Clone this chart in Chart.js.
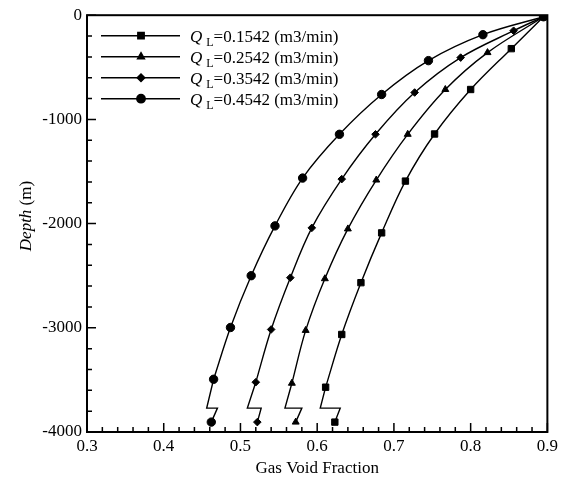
<!DOCTYPE html>
<html>
<head>
<meta charset="utf-8">
<script src="https://cdn.jsdelivr.net/npm/chart.js@4.4.1/dist/chart.umd.min.js"></script>
<style>
  html, body { margin: 0; padding: 0; background: #fff; }
  canvas { display: block; }
</style>
</head>
<body>
<canvas id="chart" width="562" height="483"></canvas>
<script>
const Q_LABELS = ['0.1542', '0.2542', '0.3542', '0.4542'];
const MARKERS = ['rect', 'triangle', 'rectRot', 'circle'];
const MARKER_R = [4.5, 4, 3.8, 4.2];

// gas void fraction vs depth (m)
const frac1542 = [0.895, 0.853, 0.800, 0.753, 0.715, 0.684, 0.657, 0.632, 0.611];
const depth1542 = [-15, -321, -713, -1140, -1592, -2089, -2567, -3064, -3570];
const frac2542 = [0.895, 0.822, 0.767, 0.718, 0.677, 0.640, 0.610, 0.585, 0.567];
const depth2542 = [-15, -359, -713, -1143, -1582, -2051, -2529, -3025, -3532];
const frac3542 = [0.895, 0.856, 0.787, 0.727, 0.676, 0.632, 0.593, 0.565, 0.540, 0.520];
const depth3542 = [-15, -149, -407, -742, -1143, -1573, -2041, -2519, -3016, -3522];
const frac4542 = [0.895, 0.816, 0.745, 0.684, 0.629, 0.581, 0.545, 0.514, 0.487, 0.465];
const depth4542 = [-15, -187, -436, -761, -1143, -1563, -2022, -2500, -2997, -3494];

// the small step at the bottom of each curve
const tailFrac1542 = [0.611, 0.604, 0.630, 0.623];
const tailFrac2542 = [0.567, 0.558, 0.580, 0.572];
const tailFrac3542 = [0.520, 0.509, 0.527, 0.522];
const tailFrac4542 = [0.465, 0.456, 0.470, 0.462];
const tailDepth1542 = [-3570, -3771, -3771, -3905];
const tailDepth2542 = [-3532, -3771, -3771, -3905];
const tailDepth3542 = [-3522, -3771, -3771, -3905];
const tailDepth4542 = [-3494, -3771, -3771, -3905];

const X_TICKS = [0.3, 0.4, 0.5, 0.6, 0.7, 0.8, 0.9];
const Y_TICKS = [0, -1000, -2000, -3000, -4000];

const curves = [[frac1542, depth1542], [frac2542, depth2542], [frac3542, depth3542], [frac4542, depth4542]];
const tails = [[tailFrac1542, tailDepth1542], [tailFrac2542, tailDepth2542], [tailFrac3542, tailDepth3542], [tailFrac4542, tailDepth4542]];

const SERIF = '"Liberation Serif", "Times New Roman", serif';
const pts = (xs, ys) => xs.map((v, i) => ({ x: v, y: ys[i] }));

const datasets = [];
curves.forEach(([xs, ys], i) => {
  datasets.push({
    data: pts(xs, ys),
    showLine: true,
    tension: 0.35,
    borderColor: '#000',
    borderWidth: 1.4,
    backgroundColor: '#000',
    pointStyle: MARKERS[i],
    pointRadius: MARKER_R[i],
    pointBorderWidth: 1,
  });
});
tails.forEach(([xs, ys], i) => {
  datasets.push({
    data: pts(xs, ys),
    showLine: true,
    tension: 0,
    borderColor: '#000',
    borderWidth: 1.4,
    backgroundColor: '#000',
    pointStyle: MARKERS[i],
    pointRadius: xs.map((_, k) => k === xs.length - 1 ? MARKER_R[i] : 0),
    pointBorderWidth: 1,
  });
});

// frame, inward ticks, legend and axis titles
const decor = {
  id: 'decor',
  afterDatasetsDraw(chart) {
    const { ctx, chartArea: a, scales: { x, y } } = chart;
    ctx.save();
    ctx.strokeStyle = '#000';
    ctx.lineWidth = 2;
    ctx.strokeRect(a.left, a.top, a.right - a.left, a.bottom - a.top);

    ctx.lineWidth = 1.5;
    ctx.beginPath();
    for (let i = 0; i <= 30; i++) {
      const px = x.getPixelForValue(0.3 + i * 0.02);
      const len = i % 5 === 0 ? 9 : 5;
      ctx.moveTo(px, a.bottom);
      ctx.lineTo(px, a.bottom - len);
    }
    for (let i = 0; i <= 20; i++) {
      const py = y.getPixelForValue(-i * 200);
      const len = i % 5 === 0 ? 9 : 5;
      ctx.moveTo(a.left, py);
      ctx.lineTo(a.left + len, py);
    }
    ctx.stroke();

    // legend
    ctx.fillStyle = '#000';
    Q_LABELS.forEach((q, i) => {
      const ry = a.top + 20.5 + i * 21;
      ctx.lineWidth = 1.4;
      ctx.beginPath();
      ctx.moveTo(a.left + 14, ry);
      ctx.lineTo(a.left + 93, ry);
      ctx.stroke();
      Chart.helpers.drawPoint(ctx, { pointStyle: MARKERS[i], radius: MARKER_R[i], rotation: 0, borderWidth: 1 }, a.left + 54, ry);
      ctx.fill();
      ctx.textBaseline = 'alphabetic';
      ctx.textAlign = 'left';
      let tx = a.left + 103;
      const base = ry + 6;
      ctx.font = 'italic 17px ' + SERIF;
      ctx.fillText('Q', tx, base);
      tx += ctx.measureText('Q').width + 4;
      ctx.font = '12px ' + SERIF;
      ctx.fillText('L', tx, base + 4);
      tx += ctx.measureText('L').width;
      ctx.font = '17px ' + SERIF;
      ctx.fillText('=' + q + ' (m3/min)', tx, base);
    });

    // x title
    ctx.font = '17px ' + SERIF;
    ctx.textAlign = 'center';
    ctx.textBaseline = 'middle';
    ctx.fillText('Gas Void Fraction', (a.left + a.right) / 2, 469);

    // y title: italic "Depth" + " (m)"
    ctx.translate(27, 216);
    ctx.rotate(-Math.PI / 2);
    ctx.font = 'italic 17px ' + SERIF;
    const w1 = ctx.measureText('Depth').width;
    ctx.font = '17px ' + SERIF;
    const w2 = ctx.measureText(' (m)').width;
    ctx.textAlign = 'left';
    ctx.font = 'italic 17px ' + SERIF;
    ctx.fillText('Depth', -(w1 + w2) / 2, 0);
    ctx.font = '17px ' + SERIF;
    ctx.fillText(' (m)', -(w1 + w2) / 2 + w1, 0);
    ctx.restore();
  }
};

new Chart(document.getElementById('chart'), {
  type: 'scatter',
  data: { datasets },
  options: {
    responsive: false,
    animation: false,
    devicePixelRatio: 1,
    layout: { padding: { top: 13, right: 13, left: 0, bottom: 0 } },
    plugins: { legend: { display: false }, tooltip: { enabled: false } },
    scales: {
      x: {
        type: 'linear',
        min: 0.3,
        max: 0.9,
        afterBuildTicks: s => { s.ticks = X_TICKS.map(v => ({ value: v })); },
        afterFit: s => { s.height = 51; },
        grid: { display: false, drawTicks: false },
        border: { display: false },
        ticks: {
          color: '#000',
          padding: 4,
          maxRotation: 0,
          font: { family: SERIF, size: 17 },
          callback: v => v.toFixed(1),
        },
      },
      y: {
        type: 'linear',
        min: -4000,
        max: 0,
        afterBuildTicks: s => { s.ticks = Y_TICKS.map(v => ({ value: v })); },
        afterFit: s => { s.width = 87; },
        grid: { display: false, drawTicks: false },
        border: { display: false },
        ticks: {
          color: '#000',
          padding: 5,
          font: { family: SERIF, size: 17 },
          callback: v => String(v),
        },
      },
    },
  },
  plugins: [decor],
});
</script>
</body>
</html>
